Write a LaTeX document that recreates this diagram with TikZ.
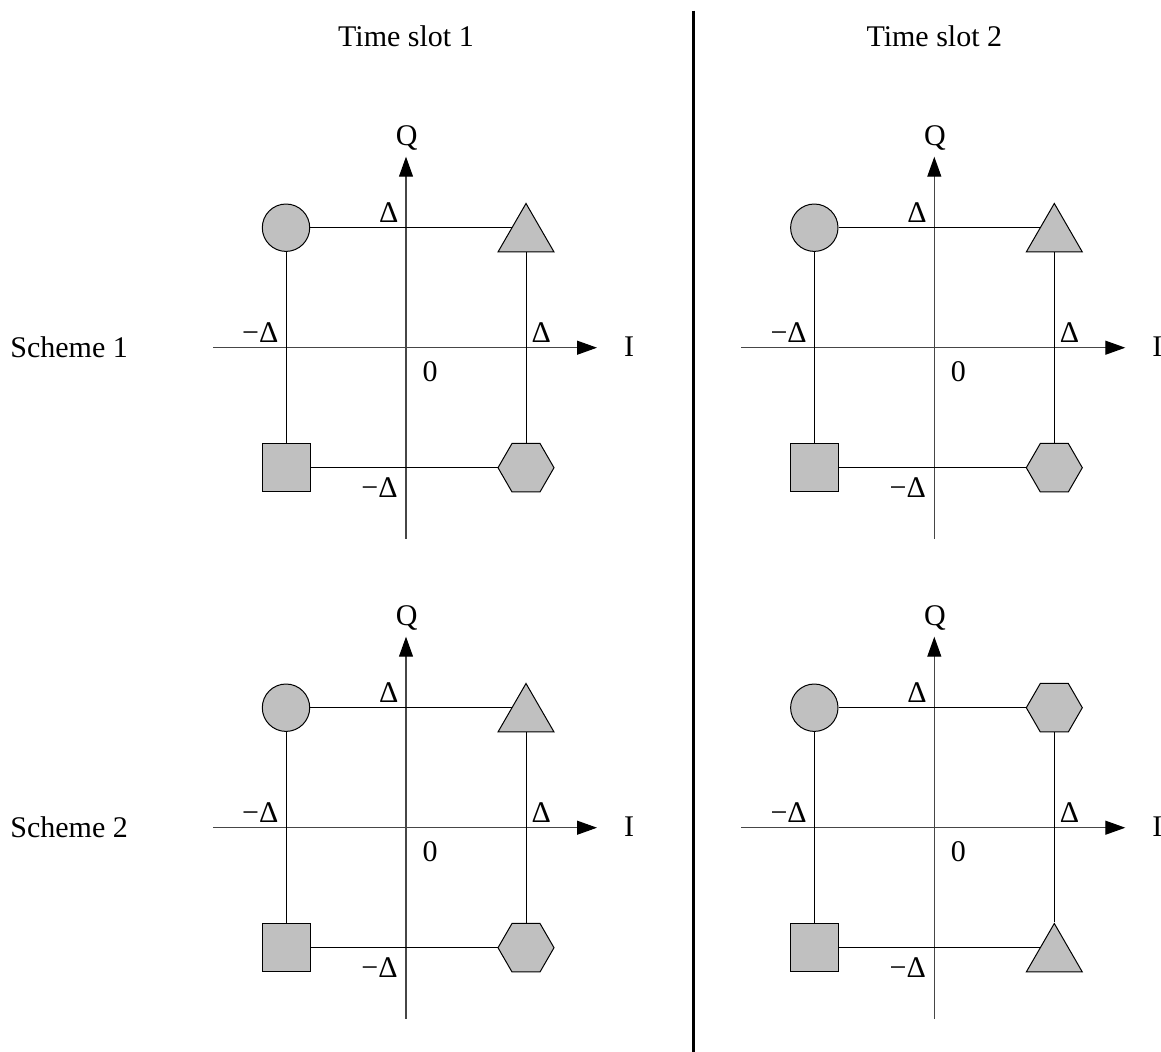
\documentclass[tikz,border=0pt]{standalone}
\usepackage{fontspec}
\setmainfont{Liberation Serif}
\usetikzlibrary{arrows.meta,shapes.geometric,backgrounds}

\definecolor{symgray}{RGB}{192,192,192}
\definecolor{axisgray}{RGB}{70,70,70}

\tikzset{
  every node/.style={font=\fontsize{15}{18}\selectfont, inner sep=0pt},
  symb/.style={draw=black, line width=0.5pt, fill=symgray, inner sep=0pt},
  csym/.style={symb, circle, minimum size=23.7pt},
  ssym/.style={symb, rectangle, minimum size=24pt},
  hsym/.style={symb, regular polygon, regular polygon sides=6, minimum size=28pt},
  tsym/.style={symb, regular polygon, regular polygon sides=3, minimum size=32.33pt},
  iqaxis/.style={draw=axisgray, line width=0.55pt,
    -{Triangle[length=10pt,width=7pt,color=black,fill=black]}},
  wire/.style={draw=black, line width=0.5pt},
  lbl/.style={anchor=base},
}

% One I/Q constellation: #1 name prefix, #2,#3 origin,
% #4 = 0: triangle upper right, hexagon lower right; 1: swapped
\newcommand\iqpanel[4]{%
  \begin{scope}[shift={(#2,#3)}]
    \coordinate (#1iw) at (-193,0);
    \coordinate (#1ie) at (191,0);
    \coordinate (#1qs) at (0,191);
    \coordinate (#1qn) at (0,-191);
    \node[csym] (#1c) at (-120,-120) {};
    \node[ssym] (#1s) at (-120,120) {};
    \ifnum#4=0
      \node[tsym] (#1u) at (120,-111.92) {};
      \node[hsym] (#1l) at (120,120) {};
    \else
      \node[hsym] (#1u) at (120,-120) {};
      \node[tsym] (#1l) at (120,128.08) {};
    \fi
    \begin{scope}[on background layer]
      \draw[iqaxis] (#1iw) -- (#1ie);
      \draw[iqaxis] (#1qs) -- (#1qn);
      \draw[wire] (#1c) -- (#1c -| #1u);
      \draw[wire] (#1c) -- (#1s);
      \draw[wire] (#1u) -- (#1l);
      \draw[wire] (#1s) -- (#1s -| #1l);
    \end{scope}
    \node[lbl] (#1Q) at (0.7,-202.7) {Q};
    \node[lbl] (#1I) at (223,9) {I};
    \node[lbl] (#1dn) at (-17.2,-125) {Δ};
    \node[lbl] (#1dw) at (-145.7,-5) {−Δ};
    \node[lbl] (#1de) at (135.2,-5) {Δ};
    \node[lbl] (#1zero) at (24,34) {0};
    \node[lbl] (#1ds) at (-26.5,150) {−Δ};
  \end{scope}%
}

\begin{document}
\begin{tikzpicture}[x=0.5pt,y=-0.5pt]
  \useasboundingbox (0,0) rectangle (1161,1051);

  % column headings and row labels
  \node[lbl] (ts1) at (406,46) {Time slot 1};
  \node[lbl] (ts2) at (934.3,46) {Time slot 2};
  \node[anchor=base west] (sc1) at (10,357.3) {Scheme 1};
  \node[anchor=base west] (sc2) at (10,837.3) {Scheme 2};

  % divider between the two time slots
  \coordinate (divtop) at (693.3,10.7);
  \coordinate (divbot) at (693.3,1055);
  \draw[line width=1.5pt] (divtop) -- (divbot);

  % constellations
  \iqpanel{a}{406}{347.7}{0}
  \iqpanel{b}{934.3}{347.7}{0}
  \iqpanel{c}{406}{827.7}{0}
  \iqpanel{d}{934.3}{827.7}{1}
\end{tikzpicture}
\end{document}
